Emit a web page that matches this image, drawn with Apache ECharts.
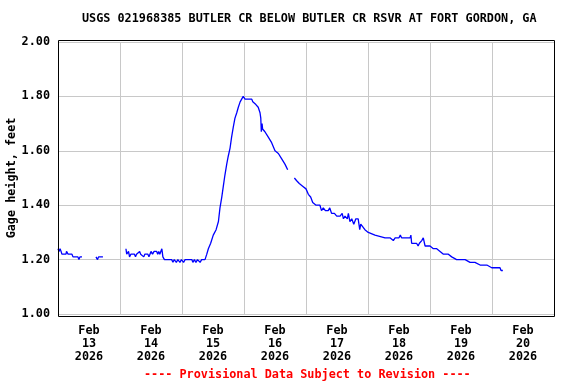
<!DOCTYPE html>
<html><head><meta charset="utf-8">
<script src="https://cdn.jsdelivr.net/npm/echarts@6/dist/echarts.min.js"></script>
<style>html,body{margin:0;padding:0;background:#fff}#c{width:576px;height:384px}</style>
</head><body><div id="c"></div>
<script>
const titleText = 'USGS 021968385 BUTLER CR BELOW BUTLER CR RSVR AT FORT GORDON, GA';
const footerText = '---- Provisional Data Subject to Revision ----';
const yName = 'Gage height, feet';
const dayLabels = ['Feb\n13\n2026','Feb\n14\n2026','Feb\n15\n2026','Feb\n16\n2026','Feb\n17\n2026','Feb\n18\n2026','Feb\n19\n2026','Feb\n20\n2026'];
// hours since Feb 13 00:00
const hours = [0,0.4,0.8,1.2,1.5,3.1,3.3,3.9,5.4,5.8,7.7,8.1,8.5,9.3,11,
14.7,15.3,15.7,17.4,20,
26.3,26.6,27.3,27.7,28.2,29.6,30.0,30.4,31.6,32.0,33.2,33.6,34.8,35.2,35.6,36.0,36.6,37.2,38.2,38.6,39.0,39.4,39.8,40.2,40.6,41.2,
44.0,44.5,45.0,45.8,46.4,47.2,47.8,48.6,49.2,51.8,52.2,52.8,53.4,54.0,55.0,55.6,56.9,
57.6,58.2,59.1,60.1,61.2,62.1,62.7,63.4,64.0,64.6,65.3,65.9,66.6,67.2,67.9,68.5,69.2,69.8,70.5,71.1,71.7,72.4,
75.0,75.4,76.6,77.5,78.2,78.5,78.7,79.0,79.2,80.1,81.4,82.7,84.0,85.3,86.6,87.9,88.9,90,
91.5,92.4,93.4,94.7,96.0,96.9,97.8,98.6,99.9,101.4,102.0,102.7,103.5,104.6,105.2,105.9,107.0,107.9,109.2,110.0,110.5,111.1,112.0,112.4,113.0,113.7,114.5,115.3,116.2,116.8,117.2,118.0,118.8,120.1,122.7,126.6,128.5,129.8,130.5,132,132.5,133,135,136.3,136.6,136.9,138.8,139.4,139.9,140.8,141.4,142.1,144.0,145.3,146.6,147.9,149.2,151.1,152.4,154.3,157.6,159.5,161.4,163.4,166.0,167.9,169.8,171.1,171.5,172.2];
const gage = [1.24,1.23,1.24,1.23,1.22,1.22,1.23,1.22,1.22,1.21,1.21,1.20,1.21,1.21,null,
1.21,1.20,1.21,1.21,null,
1.24,1.22,1.23,1.21,1.22,1.22,1.21,1.22,1.23,1.22,1.21,1.22,1.22,1.21,1.22,1.23,1.22,1.23,1.23,1.22,1.23,1.22,1.23,1.24,1.21,1.20,
1.20,1.19,1.20,1.19,1.20,1.19,1.20,1.19,1.20,1.20,1.19,1.20,1.19,1.20,1.19,1.20,1.20,
1.22,1.24,1.26,1.29,1.31,1.34,1.39,1.43,1.47,1.51,1.55,1.58,1.61,1.65,1.69,1.72,1.74,1.76,1.78,1.79,1.80,1.79,
1.79,1.78,1.77,1.76,1.74,1.72,1.67,1.70,1.68,1.67,1.65,1.63,1.60,1.59,1.57,1.55,1.53,null,
1.50,1.49,1.48,1.47,1.46,1.44,1.43,1.41,1.40,1.40,1.38,1.39,1.38,1.38,1.39,1.37,1.37,1.36,1.36,1.37,1.35,1.36,1.35,1.37,1.34,1.35,1.33,1.35,1.35,1.31,1.33,1.32,1.31,1.30,1.29,1.28,1.28,1.27,1.28,1.28,1.29,1.28,1.28,1.28,1.29,1.26,1.26,1.25,1.26,1.27,1.28,1.25,1.25,1.24,1.24,1.23,1.22,1.22,1.21,1.20,1.20,1.19,1.19,1.18,1.18,1.17,1.17,1.17,1.16,1.16];
const yTicks = {min:1.0, max:2.0, interval:0.2};

const font = '"DejaVu Sans Mono", monospace';
const fs = 11.8;
const data = hours.map((h,i)=>[h, gage[i]===null ? '-' : gage[i]]);
const chart = echarts.init(document.getElementById('c'));
chart.setOption({
  animation:false,
  backgroundColor:'#fff',
  title:[
    {text:titleText, left:82, top:13, padding:0, textStyle:{fontFamily:font, fontWeight:'bold', fontSize:fs, color:'#000'}},
    {text:footerText, left:144, top:369, padding:0, textStyle:{fontFamily:font, fontWeight:'bold', fontSize:fs, color:'#ff0000'}}
  ],
  grid:{left:58, right:22, top:42, bottom:70, show:false, containLabel:false, outerBoundsMode:'none'},
  xAxis:[
    {type:'category', data:dayLabels, boundaryGap:true, position:'bottom',
     axisLine:{show:false}, axisTick:{show:false},
     splitLine:{show:true, lineStyle:{color:'#c8c8c8', width:1}},
     axisLabel:{interval:0, margin:10, fontFamily:font, fontWeight:'bold', fontSize:fs, color:'#000', lineHeight:13}},
    {type:'value', min:0, max:192, show:false}
  ],
  yAxis:{type:'value', min:yTicks.min, max:yTicks.max, interval:yTicks.interval,
    name:yName, nameLocation:'middle', nameGap:40, nameRotate:90, nameMoveOverlap:false,
    nameTextStyle:{fontFamily:font, fontWeight:'bold', fontSize:fs, color:'#000'},
    axisLine:{show:false}, axisTick:{show:false},
    splitLine:{lineStyle:{color:'#c8c8c8', width:1}},
    axisLabel:{margin:8, fontFamily:font, fontWeight:'bold', fontSize:fs, color:'#000', formatter:v=>v.toFixed(2)}},
  series:[{type:'line', xAxisIndex:1, data:data, showSymbol:false, connectNulls:false,
    lineStyle:{color:'#0000ff', width:1.3}, itemStyle:{color:'#0000ff'}}],
  graphic:[{type:'rect', shape:{x:58.5, y:40.5, width:496, height:276}, style:{fill:null, stroke:'#000', lineWidth:1}, z:100}]
});
</script></body></html>
